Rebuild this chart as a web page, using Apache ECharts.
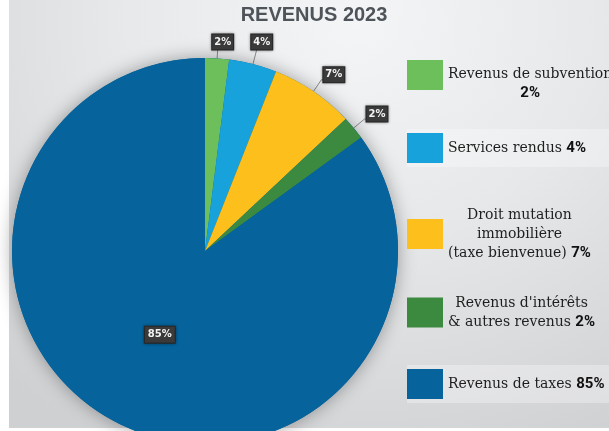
<!DOCTYPE html>
<html>
<head>
<meta charset="utf-8">
<script src="https://cdn.jsdelivr.net/npm/echarts@6/dist/echarts.min.js"></script>
<style>
  html, body { margin: 0; padding: 0; background: #fff; }
  #wrap { position: relative; width: 609px; height: 431px; overflow: hidden; }
  #backdrop {
    position: absolute; left: 9px; top: 0; width: 600px; height: 428px;
    background: radial-gradient(ellipse 90% 110% at 58% 5%, #f3f5f6 0%, #e6e8ea 45%, #cfd0d2 100%);
  }
  #chart { position: absolute; left: 0; top: 0; width: 609px; height: 431px; }
</style>
</head>
<body>
<div id="wrap">
  <div id="backdrop"></div>
  <div id="chart"></div>
</div>
<script>
// données du graphique
const categories = [
  'Revenus de subvention',
  'Services rendus',
  'Droit mutation immobilière (taxe bienvenue)',
  "Revenus d'intérêts & autres revenus",
  'Revenus de taxes'
]
// libellés de la légende (retours à la ligne comme dans l'original)
const legendLabels = [
  'Revenus de subvention\n',
  'Services rendus ',
  'Droit mutation\nimmobilière\n(taxe bienvenue) ',
  "Revenus d'intérêts\n& autres revenus ",
  'Revenus de taxes '
]
const values = [2, 4, 7, 2, 85]
const colors = ['#6cbf5b', '#18a2db', '#fdbf1c', '#3b8a3f', '#06639b']

const chart = echarts.init(document.getElementById('chart'))

const legendTops = [60, 133, 208, 296, 369]
const total = values.reduce((a, b) => a + b, 0)
const pct = (v) => Math.round(v / total * 100) + '%'

const legends = categories.map((name, i) => {
  // bandeau clair derrière les libellés d'une seule ligne
  const band = i === 1 || i === 4
  return {
    data: [name],
    orient: 'vertical',
    left: 407,
    top: legendTops[i] - (band ? 4 : 0),
    padding: band ? [4, 80, 4, 0] : 0,
    backgroundColor: band ? 'rgba(255,255,255,0.3)' : 'transparent',
    itemWidth: 36,
    itemHeight: 30,
    icon: 'rect',
    selectedMode: false,
    formatter: (n) => {
      const idx = categories.indexOf(n)
      const lines = legendLabels[idx].split('\n')
      return lines.map((l, k) => {
        let s = l ? '{t|' + l + '}' : ''
        if (k === lines.length - 1) s += '{b|' + pct(values[idx]) + '}'
        return s
      }).join('\n')
    },
    textStyle: {
      padding: i === 0 ? [18, 0, 0, 0] : 0,
      rich: {
        t: { fontFamily: 'DejaVu Serif', fontSize: 14, color: '#1e1e1e', align: 'center', lineHeight: 19 },
        b: { fontFamily: 'Roboto, DejaVu Sans', fontWeight: 'bold', fontSize: 15, color: '#111', align: 'center', lineHeight: 19 }
      }
    }
  }
})

const option = {
  color: colors,
  animation: false,
  title: {
    text: 'REVENUS 2023',
    left: 309,
    top: 0,
    textAlign: 'center',
    textStyle: {
      fontFamily: 'Liberation Sans',
      fontWeight: 'bold',
      fontSize: 20,
      color: '#4e5459'
    }
  },
  legend: legends,
  series: [
    {
      // ombre sous le disque
      type: 'pie',
      silent: true,
      center: [205, 251],
      radius: 193,
      label: { show: false },
      labelLine: { show: false },
      itemStyle: { color: '#06639b', shadowBlur: 18, shadowColor: 'rgba(0,0,0,0.35)' },
      data: [{ value: total, name: '' }]
    },
    {
      type: 'pie',
      center: [205, 251],
      radius: 193,
      startAngle: 90,
      clockwise: true,
      avoidLabelOverlap: false,
      data: categories.map((name, i) => {
        const d = { name, value: values[i] }
        if (i === 0) d.labelLine = { length: 9, length2: 0 }
        if (i === 1) d.labelLine = { length: 15, length2: 0 }
        if (i === 4) d.label = { position: 'inside', padding: [3, 3, 3, 3] }
        return d
      }),
      labelLayout: (p) => {
        if (p.dataIndex < 2) return { align: 'center', verticalAlign: 'bottom' }
        if (p.dataIndex < 4) return { dx: -6, dy: -5 }
        return { dy: -5 }
      },
      label: {
        show: true,
        position: 'outside',
        formatter: (p) => pct(p.value),
        color: '#f2f2f2',
        fontFamily: 'DejaVu Sans',
        fontWeight: 'bold',
        fontSize: 10,
        backgroundColor: '#3a3a3a',
        borderColor: '#2a2a2a',
        borderWidth: 1,
        padding: [3, 2, 2, 2],
        shadowBlur: 3,
        shadowColor: 'rgba(0,0,0,0.4)'
      },
      labelLine: {
        show: true,
        length: 14,
        length2: 3,
        lineStyle: { color: '#8a8a8a', width: 1 }
      },
      itemStyle: { borderWidth: 0 }
    }
  ]
}

chart.setOption(option)
</script>
</body>
</html>
